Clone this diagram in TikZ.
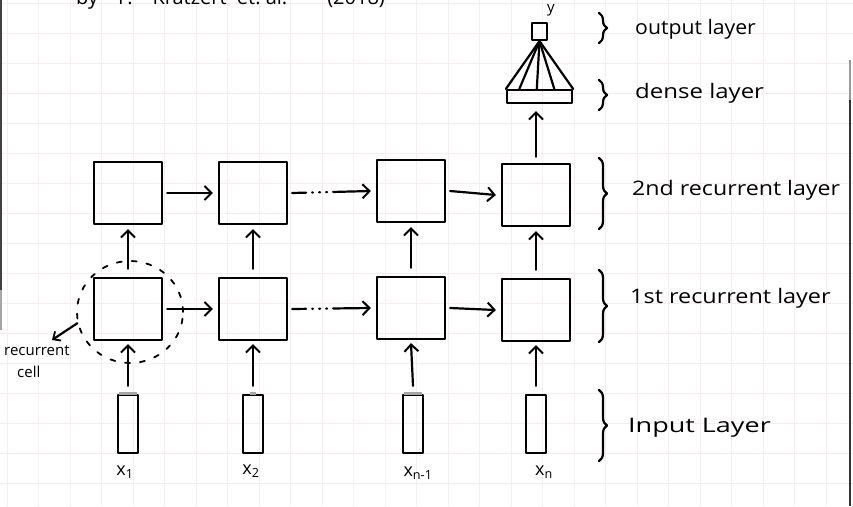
\documentclass[tikz,border=0pt]{standalone}
\usepackage{fontspec}
\usepackage{graphicx}
\setmainfont{Open Sans}
\usetikzlibrary{arrows.meta,shapes.geometric,decorations.pathreplacing,calc}
\definecolor{gridc}{RGB}{246,238,238}
\begin{document}
\begin{tikzpicture}[x=1pt,y=-1pt,
  ink/.style={line width=2.2pt, line cap=round, line join=round},
  cellbox/.style={draw, ink, minimum width=68pt, minimum height=62pt, inner sep=0pt},
  inbox/.style={draw, ink, minimum width=20pt, minimum height=58pt, inner sep=0pt},
  arr/.style={ink, -{Straight Barb[length=7pt,width=14pt,line width=2pt]}},
  dotarr/.style={arr, dash pattern=on 14pt off 6pt on 1pt off 6pt on 1pt off 6pt on 1pt off 6pt on 40pt},
  brc/.style={ink, decorate, decoration={brace, amplitude=8pt}},
  lbl/.style={anchor=west, font=\fontsize{20}{24}\selectfont, inner sep=0pt},
  xlbl/.style={font=\fontsize{18}{20}\selectfont, inner sep=0pt},
  topcap/.style={line width=3pt, black!35}
]
\useasboundingbox (0,0) rectangle (853,506);
\fill[white] (0,0) rectangle (853,506);
% faint graph paper
\foreach \gx in {7,38.5,...,853} \draw[gridc, line width=0.6pt] (\gx,0) -- (\gx,506);
\foreach \gy in {3,33,...,506} \draw[gridc, line width=0.6pt] (0,\gy) -- (853,\gy);
% photo edges
\draw[black!75, line width=2pt] (1,0) -- (1,290);
\draw[black!35, line width=2pt] (1,290) -- (1,330);
\draw[black!40, line width=2pt] (850,60) -- (850,100);
\draw[black!80, line width=2pt] (850,100) -- (850,506);

% cut-off caption
\node[anchor=base west, inner sep=0pt, font=\fontsize{20}{22}\selectfont] (caption) at (76,5) {by\quad F.\quad Kratzert\ \ et.\ al.\qquad (2018)};

% recurrent cell ring
\node[draw, ellipse, line width=1.8pt, line cap=round, dash pattern=on 5pt off 10pt, minimum width=106pt, minimum height=102pt] (ring) at (130,312) {};

% recurrent boxes
\node[cellbox] (b2a) at (128,193) {};
\node[cellbox] (b2b) at (253,193) {};
\node[cellbox] (b2c) at (411,191) {};
\node[cellbox] (b2d) at (536,195) {};
\node[cellbox] (b1a) at (128,309) {};
\node[cellbox] (b1b) at (253,309) {};
\node[cellbox] (b1c) at (411,308) {};
\node[cellbox] (b1d) at (536,310) {};

% input boxes
\node[inbox] (ia) at (128,424) {};
\node[inbox] (ib) at (253,424) {};
\node[inbox] (ic) at (413,424) {};
\node[inbox] (id) at (536,424) {};
\draw[topcap] ([xshift=2pt]ia.north west) -- ([xshift=-2pt]ia.north east);
\draw[topcap] ([xshift=-3pt]ib.north) -- ([xshift=3pt]ib.north);
\draw[topcap] ([xshift=2pt]ic.north west) -- ([xshift=-2pt]ic.north east);

% x labels
\node[xlbl] (xa) at (125,472) {x\textsubscript{1}};
\node[xlbl] (xb) at (251,471) {x\textsubscript{2}};
\node[xlbl] (xc) at (418,473) {x\textsubscript{n-1}};
\node[xlbl] (xd) at (544,472) {x\textsubscript{n}};

% input -> first recurrent
\foreach \i/\b in {ia/b1a, ib/b1b, ic/b1c, id/b1d}
  \draw[arr] ([yshift=8pt]\i.north) -- ([yshift=-3pt]\b.south);
% first -> second recurrent
\foreach \i/\b in {b1a/b2a, b1b/b2b, b1c/b2c, b1d/b2d}
  \draw[arr] ([yshift=8pt]\i.north) -- ([yshift=-4pt]\b.south);

% horizontal recurrences
\foreach \r in {1,2}{
  \draw[arr] ([xshift=4pt]b\r a.east) -- ([xshift=-5pt]b\r b.west);
  \draw[dotarr] ([xshift=4pt]b\r b.east) -- ([xshift=-5pt]b\r c.west);
  \draw[arr] ([xshift=4pt]b\r c.east) -- ([xshift=-5pt]b\r d.west);
}

% dense and output
\node[draw, ink, minimum width=65pt, minimum height=13pt, inner sep=0pt] (dense) at (539.5,96.5) {};
\node[draw, ink, minimum width=15pt, minimum height=17pt, inner sep=0pt] (out) at (539.5,31.5) {};
\node[inner sep=0pt, font=\fontsize{15}{17}\selectfont] (ylab) at (551,10) {y};
\foreach \f in {0,0.2,0.46,0.72,1}
  \draw[ink] (out.south) -- ($(dense.north west)!\f!(dense.north east)$);
\draw[arr] ([yshift=6pt]b2d.north) -- ([yshift=-7pt]b2d.north |- dense.south);

% braces and labels
\draw[brc] (599,13) -- (599,43);
\node[lbl] (lo) at (635,29) {\scalebox{1.06}[1]{output layer}};
\draw[brc] (599,80) -- (599,110);
\node[lbl] (ld) at (635,93) {\scalebox{1.2}[1]{dense layer}};
\draw[brc] (599,158) -- (599,229);
\node[lbl] (l2) at (632,190) {\scalebox{1.16}[1]{2nd recurrent layer}};
\draw[brc] (599,270) -- (599,342);
\node[lbl] (l1) at (630,298) {\scalebox{1.17}[1]{1st recurrent layer}};
\draw[brc] (599,390) -- (599,461);
\node[lbl] (li) at (628,428) {\scalebox{1.35}[1]{Input Layer}};

% recurrent cell annotation
\node[anchor=north west, align=left, inner sep=0pt, font=\fontsize{15}{22}\selectfont] (cellname) at (4,345) {recurrent\\\hspace{13pt}cell};
\coordinate (celltip) at (52,340);
\draw[arr, -{Straight Barb[length=6pt,width=11pt,line width=1.8pt]}] (ring.192) -- (celltip);
\end{tikzpicture}
\end{document}
